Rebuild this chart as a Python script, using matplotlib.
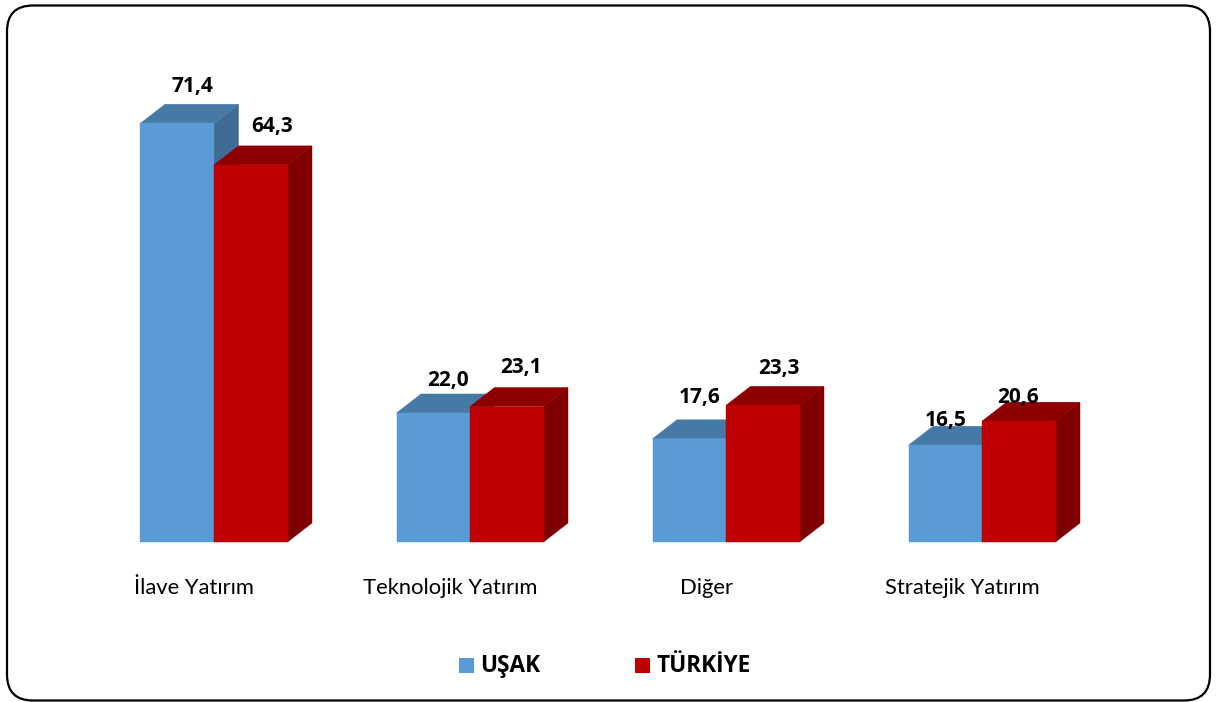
import matplotlib
matplotlib.use("Agg")
import matplotlib.pyplot as plt
from matplotlib.patches import FancyBboxPatch, Polygon, Rectangle
from matplotlib.transforms import IdentityTransform

categories = ["İlave Yatırım", "Teknolojik Yatırım", "Diğer", "Stratejik Yatırım"]
usak = [71.4, 22.0, 17.6, 16.5]
turkiye = [64.3, 23.1, 23.3, 20.6]

# hand placed data labels, px from the bar centre / top face
usak_lbl_off = [(15, 17.5), (15, 13.5), (10, 22.5), (0, 5.5)]
turkiye_lbl_off = [(21, 19.5), (14, 20.5), (16, 17.5), (-1, 4.5)]

W, H = 1217, 702
PX_PER_UNIT = 5.865
BASE_Y = 542
GROUP_STEP = 256
FIRST_X = 214

plt.rcParams['font.family'] = ['Lato', 'DejaVu Sans']
BOLD_FONT = ['Open Sans', 'DejaVu Sans']

fig = plt.figure(figsize=(W / 100, H / 100), dpi=100)
ax = fig.add_axes([0, 0, 1, 1])
# one x unit = one group, one y unit = one percent
ax.set_xlim(-FIRST_X / GROUP_STEP, (W - FIRST_X) / GROUP_STEP)
ax.set_ylim(-(H - BASE_Y) / PX_PER_UNIT, BASE_Y / PX_PER_UNIT)
ax.axis("off")

# rounded frame, in pixels
frame = FancyBboxPatch((7, 1.5), 1203, 695, boxstyle="round,pad=0,rounding_size=26",
                       fc="white", ec="black", lw=1.6, zorder=0)
fig.add_artist(frame)
frame.set_transform(IdentityTransform())

bar_w = 73.5 / GROUP_STEP
dx = 24.5 / GROUP_STEP
dy = 19 / PX_PER_UNIT


def draw_bar(x0, val, front, top, side, z):
    ax.add_patch(Polygon([(x0 + bar_w, 0), (x0 + bar_w + dx, dy), (x0 + bar_w + dx, val + dy), (x0 + bar_w, val)],
                         fc=side, ec=side, lw=0.3, zorder=z))
    ax.add_patch(Polygon([(x0, val), (x0 + bar_w, val), (x0 + bar_w + dx, val + dy), (x0 + dx, val + dy)],
                         fc=top, ec=top, lw=0.3, zorder=z))
    ax.add_patch(Rectangle((x0, 0), bar_w, val, fc=front, ec=front, lw=0.3, zorder=z))


def value_label(xc, val, off):
    ax.text(xc + off[0] / GROUP_STEP, val + dy + off[1] / PX_PER_UNIT, f"{val:.1f}".replace(".", ","),
            ha="center", va="center", fontsize=15, fontweight="bold", color="black", zorder=5,
            family=BOLD_FONT)


for i in range(len(categories)):
    draw_bar(i - bar_w, usak[i], "#5B9BD5", "#4679A6", "#3F6C94", 2)
    draw_bar(i, turkiye[i], "#C00000", "#8E0000", "#7F0000", 3)

    value_label(i - bar_w / 2, usak[i], usak_lbl_off[i])
    value_label(i + bar_w / 2, turkiye[i], turkiye_lbl_off[i])
    ax.text(i - 19.5 / GROUP_STEP, (BASE_Y - 587.5) / PX_PER_UNIT, categories[i],
            ha="center", va="center", fontsize=15.8, color="black")

# legend
leg_y = (BASE_Y - 665.5) / PX_PER_UNIT
for x_px, col, label in [(466.5, "#5B9BD5", "UŞAK"), (642.5, "#C00000", "TÜRKİYE")]:
    xc = (x_px - FIRST_X) / GROUP_STEP
    s = 15
    ax.add_patch(Rectangle((xc - s / 2 / GROUP_STEP, leg_y - s / 2 / PX_PER_UNIT), s / GROUP_STEP, s / PX_PER_UNIT,
                           fc=col, ec="none"))
    ax.text(xc + 14 / GROUP_STEP, leg_y - 1 / PX_PER_UNIT, label, ha="left", va="center", fontsize=16.3,
            fontweight="bold", family=BOLD_FONT)

fig.savefig("out.png", dpi=100)
